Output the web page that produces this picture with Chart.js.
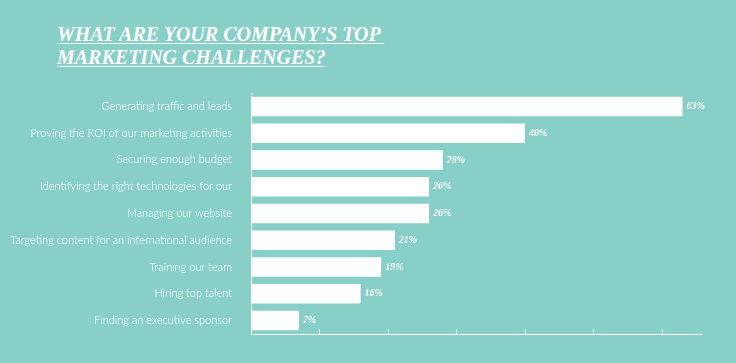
<!DOCTYPE html>
<html lang="en">
<head>
<meta charset="UTF-8">
<title>Marketing challenges</title>
<style>
  html, body { margin: 0; padding: 0; background: #88cfc7; }
  .wrap { position: relative; width: 736px; height: 363px; overflow: hidden; }
  .title {
    position: absolute; left: 57px; top: 23px;
    font-family: "Liberation Serif", "DejaVu Serif", serif;
    font-style: italic; font-weight: bold; font-size: 20px; line-height: 23px;
    color: #fff; text-decoration: underline; text-decoration-thickness: 1px;
    text-underline-offset: 2px; white-space: pre;
  }
  canvas { position: absolute; left: 0; top: 0; }
</style>
</head>
<body>
<div class="wrap">
  <div class="title">WHAT ARE YOUR COMPANY’S TOP 
MARKETING CHALLENGES?</div>
  <canvas id="chart" width="736" height="363"></canvas>
</div>
<script src="https://cdn.jsdelivr.net/npm/chart.js"></script>
<script>
// données du graphique
const categories = [
  'Generating traffic and leads',
  'Proving the ROI of our marketing activities',
  'Securing enough budget',
  'Identifying the right technologies for our',
  'Managing our website',
  'Targeting content for an international audience',
  'Training our team',
  'Hiring top talent',
  'Finding an executive sponsor'
];
const percentages = [63, 40, 28, 26, 26, 21, 19, 16, 7];
const xTicks = [10, 20, 30, 40, 50, 60];

const white = '#ffffff';

// petites graduations au-dessus de l'axe X + étiquettes de valeurs
const extras = {
  id: 'extras',
  afterDatasetsDraw(chart) {
    const ctx = chart.ctx;
    const x = chart.scales.x;
    const area = chart.chartArea;
    ctx.save();
    ctx.strokeStyle = white;
    ctx.lineWidth = 1;
    xTicks.forEach(v => {
      const px = Math.round(x.getPixelForValue(v)) + 0.5;
      ctx.beginPath();
      ctx.moveTo(px, area.bottom - 5);
      ctx.lineTo(px, area.bottom);
      ctx.stroke();
    });
    ctx.fillStyle = white;
    ctx.font = 'italic bold 10px "Liberation Serif", serif';
    ctx.textBaseline = 'middle';
    chart.getDatasetMeta(0).data.forEach((bar, i) => {
      ctx.fillText(percentages[i] + '%', bar.x + 4, bar.y);
    });
    ctx.restore();
  }
};

new Chart(document.getElementById('chart'), {
  type: 'bar',
  data: {
    labels: categories,
    datasets: [{
      data: percentages,
      backgroundColor: white,
      borderWidth: 0,
      categoryPercentage: 0.8,
      barPercentage: 0.91
    }]
  },
  options: {
    indexAxis: 'y',
    responsive: false,
    animation: false,
    layout: { padding: { top: 93, bottom: 29, right: 35, left: 0 } },
    plugins: { legend: { display: false }, tooltip: { enabled: false } },
    scales: {
      x: {
        min: 0,
        max: 65.7,
        grid: { display: false, drawTicks: false },
        border: { color: white, width: 1 },
        ticks: { display: false }
      },
      y: {
        afterFit(scale) { scale.width = 251; },
        grid: { display: false, drawTicks: false },
        border: { color: white, width: 1 },
        ticks: {
          color: white,
          padding: 19,
          font: { family: 'Lato', size: 11, weight: '300' }
        }
      }
    }
  },
  plugins: [extras]
});
</script>
</body>
</html>
